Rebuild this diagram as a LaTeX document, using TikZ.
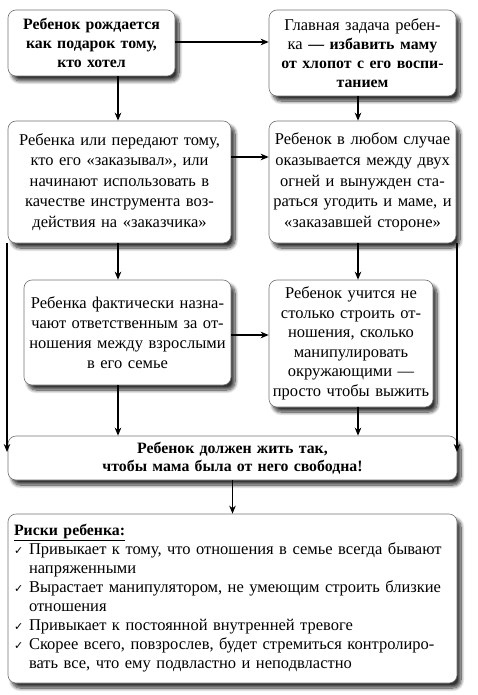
\documentclass[tikz,border=0pt]{standalone}
\usepackage{fontspec}
\setmainfont{Liberation Serif}
\newfontfamily\symfont{DejaVu Sans}
\usetikzlibrary{shadows.blur,arrows.meta}
\newcommand{\chk}{\raisebox{0.5pt}{\symfont\fontsize{11}{11}\selectfont ✓}}
\tikzset{
  box/.style={draw=black!55, line width=0.6pt, rounded corners=8pt, fill=white,
    align=center, inner sep=2pt,
    blur shadow={shadow xshift=4pt, shadow yshift=-5pt, shadow blur radius=3.5pt,
      shadow blur steps=10, shadow opacity=80}},
  arr/.style={line width=1.4pt, -{Stealth[length=8pt,width=6.5pt,inset=2.5pt]}},
  rg/.style={font=\fontsize{16.5}{#1}\selectfont},
  bd/.style={font=\fontsize{15.8}{#1}\selectfont\bfseries},
}
\begin{document}
\begin{tikzpicture}[x=1pt,y=-1pt]
\useasboundingbox (0,0) rectangle (477,695);
\node[box, bd=19, text width=163pt, minimum height=66pt] (b1) at (91.5,43)
  {Ребенок рождается\\как подарок тому,\\кто хотел};
\node[box, rg=19, text width=183pt, minimum height=86pt] (b2) at (362.5,53)
  {Главная задача ребен-\\ка \textbf{\fontsize{15.8}{19}\selectfont — избавить маму}\\\textbf{\fontsize{15.8}{19}\selectfont от хлопот с его воспи-}\\\textbf{\fontsize{15.8}{19}\selectfont танием}};
\node[box, rg=20.6, text width=219pt, minimum height=122pt] (b3) at (119.5,182)
  {Ребенка или передают тому,\\кто его «заказывал», или\\начинают использовать в\\качестве инструмента воз-\\действия на «заказчика»};
\node[box, rg=20.6, text width=183pt, minimum height=122pt] (b4) at (362.5,182)
  {Ребенок в любом случае\\оказывается между двух\\огней и вынужден ста-\\раться угодить и маме, и\\«заказавшей стороне»};
\node[box, rg=20, text width=203pt, minimum height=105pt] (b5) at (127.5,332.5)
  {Ребенка фактически назна-\\чают ответственным за от-\\ношения между взрослыми\\в его семье};
\node[box, rg=19.5, text width=160pt, minimum height=127pt] (b6) at (351,343.5)
  {Ребенок учится не\\столько строить от-\\ношения, сколько\\манипулировать\\окружающими —\\просто чтобы выжить};
\node[box, bd=18.5, text width=445pt, minimum height=44pt] (b7) at (232.5,458)
  {Ребенок должен жить так,\\чтобы мама была от него свободна!};
\node[box, rg=19, align=left, text width=437pt, inner xsep=6pt, minimum height=169pt] (b8) at (232.5,598.5)
  {\begin{tabular}{@{}p{15pt}@{}l@{}}
   \multicolumn{2}{@{}l@{}}{\textbf{\fontsize{15.8}{19}\selectfont\underline{Риски ребенка:}}}\\
   \chk & Привыкает к тому, что отношения в семье всегда бывают\\
        & напряженными\\
   \chk & Вырастает манипулятором, не умеющим строить близкие\\
        & отношения\\
   \chk & Привыкает к постоянной внутренней тревоге\\
   \chk & Скорее всего, повзрослев, будет стремиться контролиро-\\
        & вать все, что ему подвластно и неподвластно
   \end{tabular}};
\coordinate (xL) at (118,0);
\coordinate (xR) at (358,0);
\coordinate (xLL) at (7,0);
\coordinate (xRR) at (457,0);
\coordinate (y12) at (0,42);
\coordinate (y34) at (0,157);
\coordinate (y56) at (0,335);
\coordinate (yE) at (0,452);
\draw[arr] (b1.east |- y12) -- (b2.west |- y12);
\draw[arr] (b1.south -| xL) -- (b3.north -| xL);
\draw[arr] (b2.south -| xR) -- (b4.north -| xR);
\draw[arr] (b3.east |- y34) -- (b4.west |- y34);
\draw[arr] (b3.south -| xL) -- (b5.north -| xL);
\draw[arr] (b4.south -| xR) -- (b6.north -| xR);
\draw[arr] (b5.east |- y56) -- (b6.west |- y56);
\draw[arr] (b5.south -| xL) -- (b7.north -| xL);
\draw[arr] (b6.south -| xR) -- (b7.north -| xR);
\draw[arr] (b3.south -| xLL) -- (yE -| xLL);
\draw[arr] (b4.south -| xRR) -- (yE -| xRR);
\draw[arr] (b7.south) -- (b8.north);
\end{tikzpicture}
\end{document}
